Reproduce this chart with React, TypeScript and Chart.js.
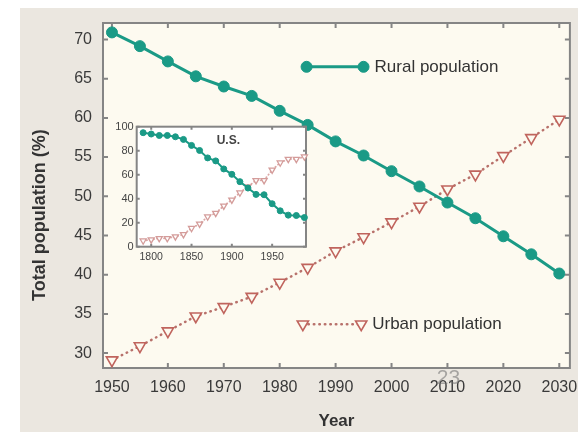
import React, { useEffect, useRef } from "react";
import { Chart, registerables } from "chart.js";
import { drawPoint } from "chart.js/helpers";
Chart.register(...registerables);

// ---- main chart data ----
const years = [1950, 1955, 1960, 1965, 1970, 1975, 1980, 1985, 1990, 1995, 2000, 2005, 2010, 2015, 2020, 2025, 2030];
const ruralPct = [70.9, 69.15, 67.2, 65.3, 64.0, 62.8, 60.9, 59.1, 57.0, 55.2, 53.2, 51.25, 49.2, 47.2, 44.9, 42.6, 40.15];
const urbanPct = [29.1, 30.9, 32.8, 34.7, 35.9, 37.2, 39.0, 40.9, 43.0, 44.8, 46.7, 48.7, 50.9, 52.8, 55.15, 57.45, 59.8];
const yearTicks = [1950, 1960, 1970, 1980, 1990, 2000, 2010, 2020, 2030];
const pctTicks = [30, 35, 40, 45, 50, 55, 60, 65, 70];

// ---- inset (U.S.) data ----
const usYears = [1790, 1800, 1810, 1820, 1830, 1840, 1850, 1860, 1870, 1880, 1890, 1900, 1910, 1920, 1930, 1940, 1950, 1960, 1970, 1980, 1990];
const usRural = [95, 93.9, 92.7, 92.7, 91.6, 89.4, 84.4, 80.2, 74, 71.5, 64.8, 60.3, 54.2, 48.9, 43.6, 43.3, 35.8, 29.9, 26.3, 26, 24.3];
const usUrban = [5, 5.9, 7, 7, 8.4, 10.3, 15.4, 19, 25, 28, 34, 39, 45, 50, 55.3, 55.3, 64, 70, 73, 73, 75];
const usYearTicks = [1800, 1850, 1900, 1950];
const usPctTicks = [0, 20, 40, 60, 80, 100];

const Y_TITLE = "Total population (%)";

const FONT = "'Liberation Sans', Arial, sans-serif";
const TEAL = "#1a9a86";
const URBAN = "#c0645d";
const PLOT_BG = "#fdfaf0";
const PAGE_BG = "#ebe7e0";
const FRAME = "#858585";

function frameAndTicks(chart: any, len: number, lw: number) {
  const { ctx, chartArea: a, scales } = chart;
  ctx.save();
  ctx.strokeStyle = FRAME;
  ctx.lineWidth = lw;
  ctx.beginPath();
  for (const t of scales.x.ticks) {
    const px = scales.x.getPixelForValue(t.value);
    ctx.moveTo(px, a.bottom);
    ctx.lineTo(px, a.bottom - len);
    ctx.moveTo(px, a.top);
    ctx.lineTo(px, a.top + len);
  }
  for (const t of scales.y.ticks) {
    const py = scales.y.getPixelForValue(t.value);
    ctx.moveTo(a.left, py);
    ctx.lineTo(a.left + len, py);
    ctx.moveTo(a.right, py);
    ctx.lineTo(a.right - len, py);
  }
  ctx.stroke();
  ctx.lineWidth = lw;
  ctx.strokeRect(a.left, a.top, a.right - a.left, a.bottom - a.top);
  ctx.restore();
}

function legendEntry(ctx: any, ds: any, x1: number, x2: number, y: number, label: string) {
  ctx.save();
  ctx.strokeStyle = ds.borderColor;
  ctx.lineWidth = ds.borderWidth;
  ctx.lineCap = ds.borderCapStyle || "butt";
  ctx.setLineDash(ds.borderDash || []);
  ctx.beginPath();
  ctx.moveTo(x1, y);
  ctx.lineTo(x2, y);
  ctx.stroke();
  ctx.setLineDash([]);
  ctx.fillStyle = ds.pointBackgroundColor;
  ctx.strokeStyle = ds.pointBorderColor;
  ctx.lineWidth = ds.pointBorderWidth;
  const opts = { pointStyle: ds.pointStyle, rotation: ds.pointRotation || 0, radius: ds.pointRadius, borderWidth: ds.pointBorderWidth };
  drawPoint(ctx, opts, x1, y);
  drawPoint(ctx, opts, x2, y);
  ctx.fillStyle = "#333";
  ctx.font = `17px ${FONT}`;
  ctx.textBaseline = "middle";
  ctx.textAlign = "left";
  ctx.fillText(label, x2 + 11, y);
  ctx.restore();
}

const mainPlugin = {
  id: "mainDecor",
  beforeDraw(chart: any) {
    const { ctx, chartArea: a, width, height } = chart;
    ctx.save();
    ctx.fillStyle = "#ffffff";
    ctx.fillRect(0, 0, width, height);
    ctx.fillStyle = PAGE_BG;
    ctx.fillRect(20, 8, width - 20, height - 8);
    ctx.fillStyle = PLOT_BG;
    ctx.fillRect(a.left, a.top, a.right - a.left, a.bottom - a.top);
    ctx.restore();
  },
  beforeDatasetsDraw(chart: any) {
    frameAndTicks(chart, 5, 2);
  },
  afterDatasetsDraw(chart: any) {
    const { ctx, chartArea: a } = chart;
    const w = a.right - a.left;
    const h = a.bottom - a.top;
    const ds = chart.data.datasets;
    legendEntry(ctx, ds[0], a.left + w * 0.436, a.left + w * 0.558, a.top + h * 0.127, ds[0].label);
    legendEntry(ctx, ds[1], a.left + w * 0.428, a.left + w * 0.553, a.top + h * 0.873, ds[1].label);
  },
  afterDraw(chart: any) {
    const { ctx, chartArea: a } = chart;
    const w = a.right - a.left;
    const h = a.bottom - a.top;
    // y-axis title (placed slightly below the plot's middle, as in the original)
    ctx.save();
    ctx.translate(40, a.top + h * 0.557);
    ctx.rotate(-Math.PI / 2);
    ctx.fillStyle = "#333";
    ctx.font = `bold 18px ${FONT}`;
    ctx.textAlign = "center";
    ctx.textBaseline = "middle";
    ctx.fillText(Y_TITLE, 0, 0);
    ctx.restore();
    // slide number overlay
    ctx.save();
    ctx.fillStyle = "rgba(110,110,110,0.55)";
    ctx.font = `21px ${FONT}`;
    ctx.textAlign = "center";
    ctx.textBaseline = "middle";
    ctx.fillText("23", a.left + w * 0.74, a.bottom + 10);
    ctx.restore();
  },
};

const insetPlugin = {
  id: "insetDecor",
  beforeDraw(chart: any) {
    const { ctx, chartArea: a } = chart;
    ctx.save();
    ctx.fillStyle = "#ffffff";
    ctx.fillRect(a.left, a.top, a.right - a.left, a.bottom - a.top);
    ctx.restore();
  },
  beforeDatasetsDraw(chart: any) {
    frameAndTicks(chart, 3, 2);
  },
  afterDatasetsDraw(chart: any) {
    const { ctx, chartArea: a } = chart;
    ctx.save();
    ctx.fillStyle = "#444";
    ctx.font = `bold 12px ${FONT}`;
    ctx.textAlign = "center";
    ctx.textBaseline = "middle";
    ctx.fillText("U.S.", (a.left + a.right) / 2 + 7, a.top + 14);
    ctx.restore();
  },
};

export default function App() {
  const mainRef = useRef<HTMLCanvasElement>(null);
  const insetRef = useRef<HTMLCanvasElement>(null);

  useEffect(() => {
    const main = new Chart(mainRef.current as HTMLCanvasElement, {
      type: "line",
      data: {
        datasets: [
          {
            label: "Rural population",
            data: years.map((x, i) => ({ x, y: ruralPct[i] })),
            borderColor: TEAL,
            borderWidth: 3,
            pointStyle: "circle",
            pointRadius: 5.5,
            pointBackgroundColor: TEAL,
            pointBorderColor: TEAL,
            pointBorderWidth: 1,
            clip: false,
          } as any,
          {
            label: "Urban population",
            data: years.map((x, i) => ({ x, y: urbanPct[i] })),
            borderColor: "#b8716b",
            borderWidth: 2.5,
            borderDash: [0.5, 5],
            borderCapStyle: "round",
            pointStyle: "triangle",
            pointRotation: 180,
            pointRadius: 6.5,
            pointBackgroundColor: PLOT_BG,
            pointBorderColor: URBAN,
            pointBorderWidth: 1.6,
            clip: false,
          } as any,
        ],
      },
      options: {
        animation: false,
        responsive: false,
        layout: { padding: { left: 0, right: 7, top: 23, bottom: 0 } },
        plugins: { legend: { display: false }, tooltip: { enabled: false } },
        scales: {
          x: {
            type: "linear",
            min: 1948.4,
            max: 2031.9,
            grid: { display: false, drawTicks: false },
            border: { display: false },
            afterBuildTicks: (s: any) => {
              s.ticks = yearTicks.map((v) => ({ value: v }));
            },
            afterFit: (s: any) => {
              s.height = 64;
              s.paddingLeft = 0;
              s.paddingRight = 0;
            },
            ticks: {
              font: { family: FONT, size: 16 },
              color: "#3a3a3a",
              padding: 10,
              maxRotation: 0,
              autoSkip: false,
              callback: (v: any) => String(v),
            },
            title: {
              display: true,
              text: "Year",
              font: { family: FONT, size: 17, weight: "bold" },
              color: "#333",
              padding: { top: 0, bottom: 0 },
            },
          },
          y: {
            type: "linear",
            min: 28.1,
            max: 72.1,
            grid: { display: false, drawTicks: false },
            border: { display: false },
            afterBuildTicks: (s: any) => {
              s.ticks = pctTicks.map((v) => ({ value: v }));
            },
            afterFit: (s: any) => {
              s.width = 103;
              s.paddingTop = 0;
              s.paddingBottom = 0;
            },
            ticks: {
              font: { family: FONT, size: 16 },
              color: "#3a3a3a",
              padding: 11,
              autoSkip: false,
              callback: (v: any) => String(v),
            },
            title: { display: false },
          },
        },
      },
      plugins: [mainPlugin],
    });

    const inset = new Chart(insetRef.current as HTMLCanvasElement, {
      type: "line",
      data: {
        datasets: [
          {
            label: "Rural",
            data: usYears.map((x, i) => ({ x, y: usRural[i] })),
            borderColor: TEAL,
            borderWidth: 2,
            pointStyle: "circle",
            pointRadius: 3,
            pointBackgroundColor: TEAL,
            pointBorderColor: TEAL,
            pointBorderWidth: 1,
            clip: false,
          } as any,
          {
            label: "Urban",
            data: usYears.map((x, i) => ({ x, y: usUrban[i] })),
            borderColor: "#dba8a6",
            borderWidth: 1.8,
            borderDash: [0.5, 3],
            borderCapStyle: "round",
            pointStyle: "triangle",
            pointRotation: 180,
            pointRadius: 3.5,
            pointBackgroundColor: "#ffffff",
            pointBorderColor: "#d49c9a",
            pointBorderWidth: 1.3,
            clip: false,
          } as any,
        ],
      },
      options: {
        animation: false,
        responsive: false,
        layout: { padding: { left: 0, right: 9, top: 10.7, bottom: 0 } },
        plugins: { legend: { display: false }, tooltip: { enabled: false } },
        scales: {
          x: {
            type: "linear",
            min: 1782,
            max: 1992,
            grid: { display: false, drawTicks: false },
            border: { display: false },
            afterBuildTicks: (s: any) => {
              s.ticks = usYearTicks.map((v) => ({ value: v }));
            },
            afterFit: (s: any) => {
              s.height = 19.3;
              s.paddingLeft = 0;
              s.paddingRight = 0;
            },
            ticks: {
              font: { family: FONT, size: 10.5 },
              color: "#444",
              padding: 4,
              maxRotation: 0,
              autoSkip: false,
              callback: (v: any) => String(v),
            },
          },
          y: {
            type: "linear",
            min: 0,
            max: 100,
            grid: { display: false, drawTicks: false },
            border: { display: false },
            afterBuildTicks: (s: any) => {
              s.ticks = usPctTicks.map((v) => ({ value: v }));
            },
            afterFit: (s: any) => {
              s.width = 36.7;
              s.paddingTop = 0;
              s.paddingBottom = 0;
            },
            ticks: {
              font: { family: FONT, size: 11 },
              color: "#444",
              padding: 3,
              autoSkip: false,
              callback: (v: any) => String(v),
            },
          },
        },
      },
      plugins: [insetPlugin],
    });

    return () => {
      main.destroy();
      inset.destroy();
    };
  }, []);

  return (
    <div style={{ position: "fixed", left: 0, top: 0, width: 578, height: 432 }}>
      <canvas
        ref={mainRef}
        width={578}
        height={432}
        style={{ position: "absolute", left: 0, top: 0, width: 578, height: 432 }}
      />
      <canvas
        ref={insetRef}
        width={215}
        height={150}
        style={{ position: "absolute", left: 100, top: 116, width: 215, height: 150 }}
      />
    </div>
  );
}
